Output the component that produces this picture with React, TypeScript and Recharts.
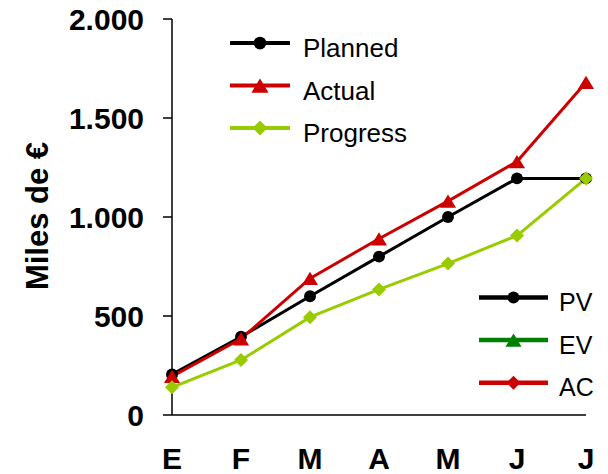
import React from 'react';
import { LineChart, Line, XAxis, YAxis } from 'recharts';

// Monthly cost curves (miles de €)
const months = ['E', 'F', 'M', 'A', 'M', 'J', 'J'];
const planned = [205, 395, 600, 800, 1000, 1195, 1195];
const actual = [195, 385, 690, 890, 1080, 1280, 1680];
const progress = [140, 278, 494, 634, 765, 906, 1195];
const yTicks = [0, 500, 1000, 1500, 2000];

const BLACK = '#000000';
const RED = '#CC0000';
const LIME = '#99CC00';
const GREEN = '#008000';
const FONT = '"Liberation Sans", Arial, sans-serif';

const data = months.map((m, i) => ({
    month: m,
    planned: planned[i],
    actual: actual[i],
    progress: progress[i],
}));

type Shape = 'circle' | 'triangle' | 'diamond';

// series legend (top) and the EVM legend (bottom right)
const seriesLegend = [
    { label: 'Planned', color: BLACK, shape: 'circle' as Shape },
    { label: 'Actual', color: RED, shape: 'triangle' as Shape },
    { label: 'Progress', color: LIME, shape: 'diamond' as Shape },
];
const evmLegend = [
    { label: 'PV', color: BLACK, shape: 'circle' as Shape },
    { label: 'EV', color: GREEN, shape: 'triangle' as Shape },
    { label: 'AC', color: RED, shape: 'diamond' as Shape },
];

const thousands = (v: number) => String(v).replace(/\B(?=(\d{3})+(?!\d))/g, '.');

function Marker({ shape, cx, cy, color, size }: { shape: Shape; cx: number; cy: number; color: string; size: number }) {
    if (shape === 'circle') return <circle cx={cx} cy={cy} r={size * 0.85} fill={color} />;
    if (shape === 'triangle') {
        const h = size * 0.95;
        const w = size * 1.15;
        return <polygon points={`${cx},${cy - h} ${cx - w},${cy + h} ${cx + w},${cy + h}`} fill={color} />;
    }
    return <polygon points={`${cx},${cy - size} ${cx + size},${cy} ${cx},${cy + size} ${cx - size},${cy}`} fill={color} />;
}

const makeDot = (shape: Shape, color: string, size: number) => (props: any) => {
    const { cx, cy, index } = props;
    if (cx == null || cy == null) return <g key={`d-${index}`} />;
    return <Marker key={`d-${shape}-${index}`} shape={shape} cx={cx} cy={cy} color={color} size={size} />;
};

function LegendBlock({ items, x1, x2, textX, rowY, gap, lineW, fontSize, markerSize }: any) {
    return (
        <g>
            {items.map((it: any, i: number) => {
                const y = rowY + i * gap;
                const mid = (x1 + x2) / 2;
                return (
                    <g key={it.label}>
                        <line x1={x1} x2={x2} y1={y} y2={y} stroke={it.color} strokeWidth={lineW} />
                        <Marker shape={it.shape} cx={mid} cy={y} color={it.color} size={markerSize} />
                        <text x={textX} y={y + fontSize * 0.55} fontSize={fontSize} fontFamily={FONT} fill="#000">
                            {it.label}
                        </text>
                    </g>
                );
            })}
        </g>
    );
}

const YLabel = () => (
    <text
        x={37}
        y={216}
        transform="rotate(-90, 37, 216)"
        textAnchor="middle"
        dominantBaseline="central"
        fontSize={31}
        fontWeight="bold"
        fontFamily={FONT}
        fill="#000"
    >
        Miles de €
    </text>
);

export default function App() {
    return (
        <div style={{ position: 'absolute', left: 0, top: 0, width: 608, height: 474, background: '#fff' }}>
            <LineChart width={608} height={474} data={data} margin={{ top: 19, right: 22, bottom: 0, left: 0 }}>
                <XAxis
                    dataKey="month"
                    height={59}
                    tickLine={false}
                    tickSize={0}
                    tickMargin={33}
                    axisLine={{ stroke: '#000', strokeWidth: 1.5 }}
                    tick={{ fontSize: 30, fontWeight: 'bold', fill: '#000', fontFamily: FONT }}
                    interval={0}
                />
                <YAxis
                    width={172}
                    domain={[0, 2000]}
                    ticks={yTicks}
                    tickFormatter={thousands}
                    tickSize={9}
                    tickMargin={19}
                    tickLine={{ stroke: '#000', strokeWidth: 1.5 }}
                    axisLine={{ stroke: '#000', strokeWidth: 1.5 }}
                    tick={{ fontSize: 30, fontWeight: 'bold', fill: '#000', fontFamily: FONT }}
                    label={<YLabel />}
                />
                <Line dataKey="planned" stroke={BLACK} strokeWidth={3} dot={makeDot('circle', BLACK, 7)} isAnimationActive={false} />
                <Line dataKey="actual" stroke={RED} strokeWidth={3} dot={makeDot('triangle', RED, 7)} isAnimationActive={false} />
                <Line dataKey="progress" stroke={LIME} strokeWidth={3} dot={makeDot('diamond', LIME, 7)} isAnimationActive={false} />
            </LineChart>
            <svg width={608} height={474} style={{ position: 'absolute', left: 0, top: 0, pointerEvents: 'none' }}>
                <LegendBlock items={seriesLegend} x1={230} x2={290} textX={303} rowY={43} gap={42.5} lineW={4} fontSize={26} markerSize={7.5} />
                <LegendBlock items={evmLegend} x1={479} x2={548} textX={559} rowY={297.5} gap={42.6} lineW={4.5} fontSize={25} markerSize={7} />
            </svg>
        </div>
    );
}
